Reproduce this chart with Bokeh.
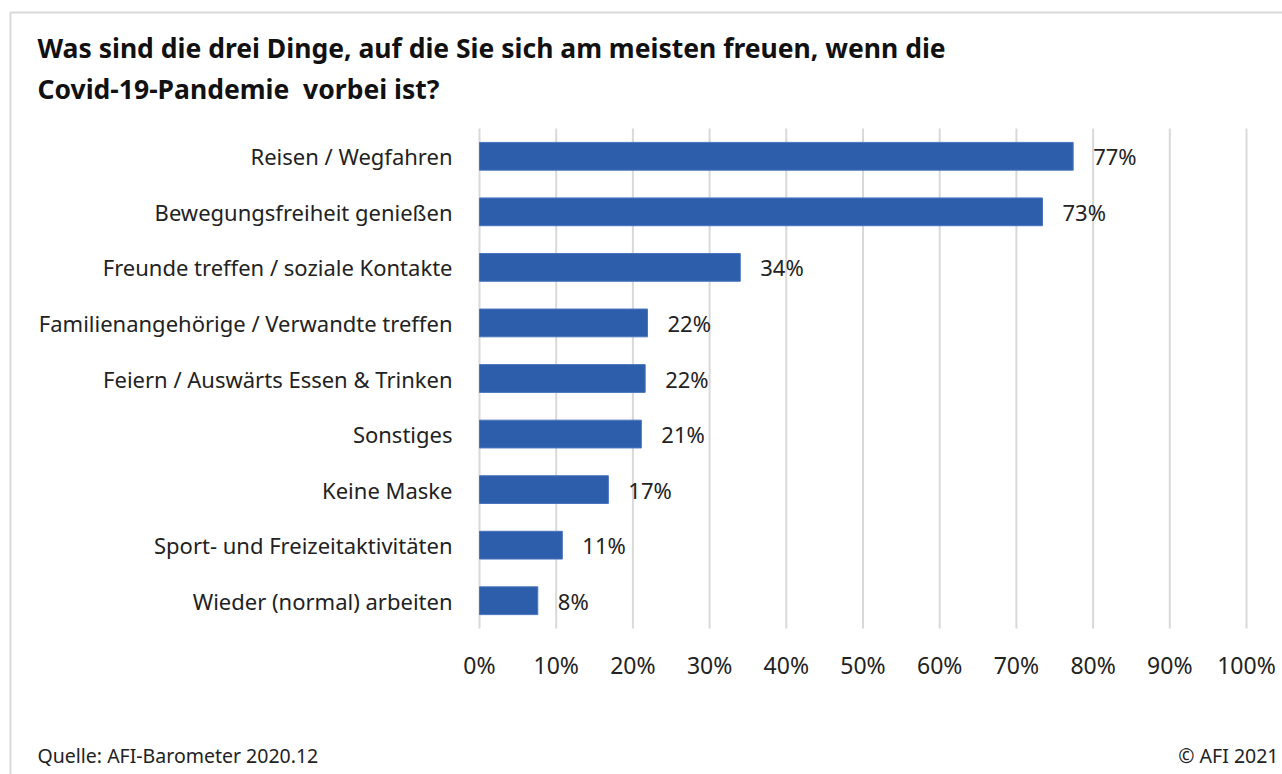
from bokeh.plotting import figure
from bokeh.models import Range1d, Label, BoxAnnotation, ColumnDataSource
from bokeh.core.properties import value
from bokeh.embed import file_html
from bokeh.resources import INLINE

categories = [
    "Reisen / Wegfahren",
    "Bewegungsfreiheit genießen",
    "Freunde treffen / soziale Kontakte",
    "Familienangehörige / Verwandte treffen",
    "Feiern / Auswärts Essen & Trinken",
    "Sonstiges",
    "Keine Maske",
    "Sport- und Freizeitaktivitäten",
    "Wieder (normal) arbeiten",
]
values = [0.774, 0.734, 0.340, 0.219, 0.216, 0.211, 0.168, 0.108, 0.076]
value_labels = ["77%", "73%", "34%", "22%", "22%", "21%", "17%", "11%", "8%"]
x_ticks = [0.0, 0.1, 0.2, 0.3, 0.4, 0.5, 0.6, 0.7, 0.8, 0.9, 1.0]
x_tick_labels = ["0%", "10%", "20%", "30%", "40%", "50%", "60%", "70%", "80%", "90%", "100%"]

title_lines = ["Was sind die drei Dinge, auf die Sie sich am meisten freuen, wenn die",
               "Covid-19-Pandemie\u00a0 vorbei ist?"]
source_text = "Quelle: AFI-Barometer 2020.12"
copyright_text = "© AFI 2021"

FONT = "Noto Sans"
TXT = "#222222"
W, H = 1282, 774

# plot area placement in pixels: x 0..1 -> 479..1246, categories -> 128..628
PX0, PX1, PY0, PY1 = 479, 1246, 128, 628
n = len(categories)
xs = (PX1 - PX0) / 1.0
ys = (PY1 - PY0) / n
x_range = Range1d(-PX0 / xs, 1 + (W - PX1) / xs)
y_range = Range1d(n + (H - PY1) / ys, -PY0 / ys)  # inverted: first category on top

ypos = [i + 0.5 for i in range(n)]
src = ColumnDataSource(dict(cat=categories, y=ypos, val=values, lab=value_labels))

p = figure(width=W, height=H, output_backend="svg", toolbar_location=None,
           x_range=x_range, y_range=y_range, min_border=0)
p.axis.visible = False
p.grid.visible = False
p.outline_line_color = None
p.background_fill_color = "white"
p.border_fill_color = "white"

# vertical gridlines across the category band
p.segment(x0=x_ticks, x1=x_ticks, y0=[0] * len(x_ticks), y1=[n] * len(x_ticks),
          line_color="#d9d9d9", line_width=2)

p.hbar(y="y", right="val", left=0, height=0.5, source=src,
       fill_color="#2d5eab", line_color="#4a74bd", line_width=1)

# value labels
p.text(x="val", y="y", text="lab", source=src, x_offset=20,
       text_baseline="middle", text_align="left", text_font=value(FONT),
       text_font_size="22px", text_color=TXT)

# category labels
p.text(x=0, y="y", text="cat", source=src, x_offset=-27,
       text_baseline="middle", text_align="right", text_font=value(FONT),
       text_font_size="22px", text_color=TXT)

# x tick labels
p.text(x=x_ticks, y=[n] * len(x_ticks), text=x_tick_labels, y_offset=36,
       text_baseline="middle", text_align="center", text_font=value(FONT),
       text_font_size="23px", text_color=TXT)

# outer frame (screen units: from bottom-left of the canvas-sized frame)
p.add_layout(BoxAnnotation(left=10, right=W + 50, top=H - 12, bottom=-50,
                           left_units="screen", right_units="screen",
                           top_units="screen", bottom_units="screen",
                           fill_alpha=0, line_color="#7f7f7f", line_width=2))

for i, t in enumerate(title_lines):
    p.add_layout(Label(x=37, y=H - (47 + 41 * i), x_units="screen", y_units="screen",
                       text=t, text_font=FONT, text_font_size="26.5px",
                       text_font_style="bold", text_color="#111111",
                       text_baseline="middle"))

p.add_layout(Label(x=37, y=H - 755, x_units="screen", y_units="screen",
                   text=source_text, text_font=FONT, text_font_size="19.5px",
                   text_color=TXT, text_baseline="middle"))
p.add_layout(Label(x=1278, y=H - 755, x_units="screen", y_units="screen",
                   text=copyright_text, text_font=FONT, text_font_size="19.5px",
                   text_color=TXT, text_baseline="middle", text_align="right"))

open("out.html", "w").write(file_html(p, INLINE))
